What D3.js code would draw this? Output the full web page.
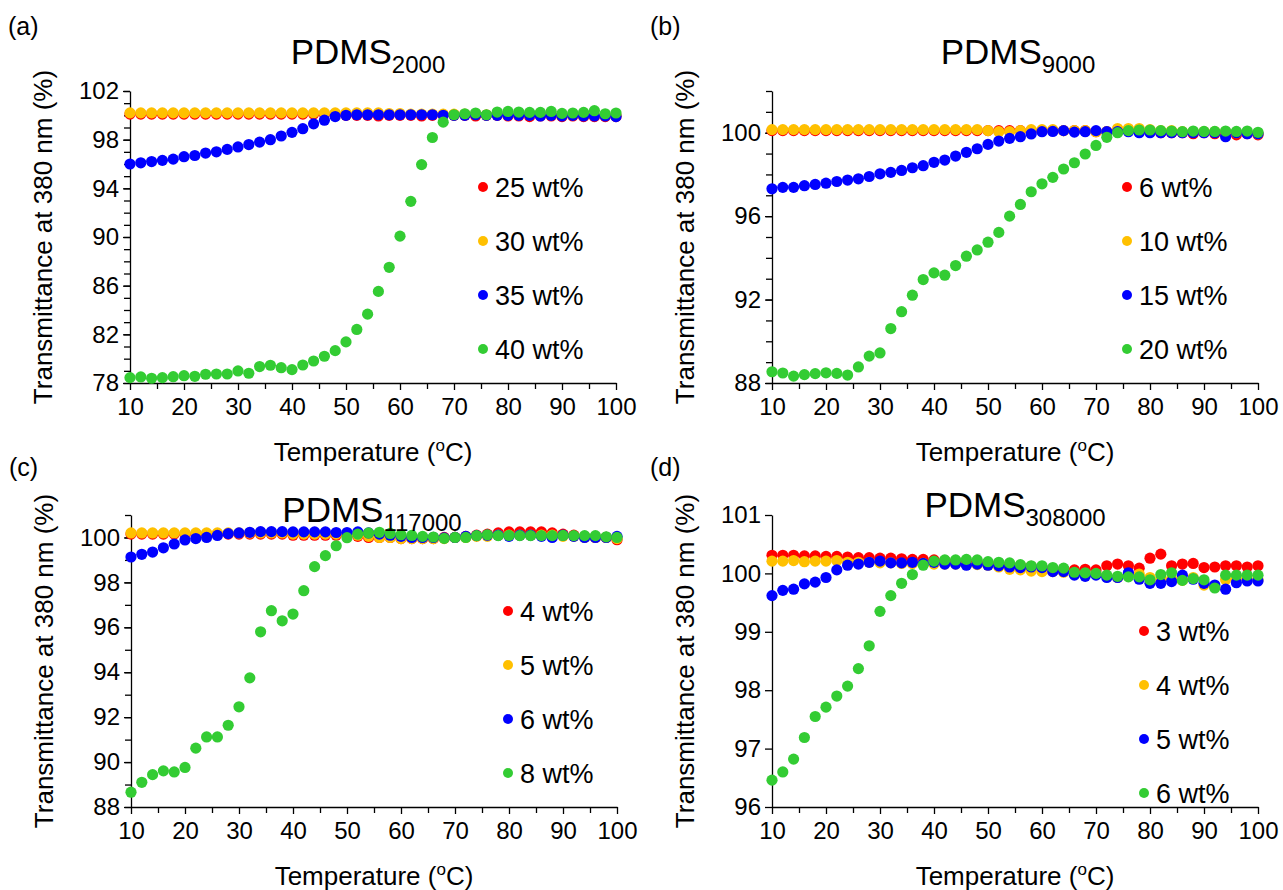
<!DOCTYPE html>
<html>
<head>
<meta charset="utf-8">
<script src="https://cdn.jsdelivr.net/npm/d3@7"></script>
<style>
  body { margin: 0; background: #fff; }
  svg text { font-family: "Liberation Sans", Arial, sans-serif; fill: #000; }
</style>
</head>
<body>
<div id="chart"></div>
<script>
// temperatures (oC), one reading every 2 degrees
const temps = [10,12,14,16,18,20,22,24,26,28,30,32,34,36,38,40,42,44,46,48,50,52,54,56,58,60,62,64,66,68,70,72,74,76,78,80,82,84,86,88,90,92,94,96,98,100];
const xTicks = [10,20,30,40,50,60,70,80,90,100];

// (a) PDMS2000
const a25 = [100.1,100.1,100.1,100.1,100.1,100.1,100.1,100.1,100.1,100.1,100.1,100.1,100.1,100.1,100.1,100.1,100.1,100.1,100.1,100.1,100.0,100.0,100.0,99.95,100.0,100.0,100.0,99.95,100.0,100.0,100.0,100.0,99.95,100.0,100.0,99.95,99.95,99.9,99.95,99.95,99.9,99.95,99.9,99.9,99.9,99.9];
const a30 = [100.2,100.2,100.2,100.2,100.2,100.2,100.2,100.2,100.2,100.2,100.2,100.2,100.2,100.2,100.2,100.2,100.2,100.2,100.2,100.2,100.2,100.2,100.2,100.2,100.15,100.15,100.1,100.1,100.1,100.1,100.1,100.1,100.1,100.05,100.05,100.1,100.05,100.05,100.1,100.05,100.0,100.05,100.0,100.0,100.0,100.0];
const a35 = [96.0,96.1,96.2,96.3,96.4,96.6,96.7,96.9,97.0,97.2,97.4,97.6,97.8,98.0,98.3,98.6,98.9,99.3,99.6,99.9,100.0,100.05,100.05,100.05,100.05,100.05,100.05,100.05,100.05,100.0,100.0,100.0,100.05,100.0,100.0,100.0,100.0,100.0,99.95,100.0,99.95,100.0,99.95,99.95,99.95,99.9];
const a40 = [78.44,78.5,78.39,78.44,78.52,78.6,78.55,78.72,78.74,78.74,78.99,78.8,79.35,79.46,79.26,79.1,79.48,79.81,80.2,80.66,81.38,82.4,83.66,85.53,87.51,90.07,92.93,95.95,98.18,99.44,100.05,100.13,100.19,100.05,100.27,100.32,100.27,100.24,100.24,100.32,100.16,100.19,100.24,100.38,100.13,100.19];

// (b) PDMS9000
const b6 = [100.1,100.1,100.1,100.1,100.1,100.1,100.1,100.1,100.1,100.1,100.1,100.1,100.1,100.1,100.1,100.1,100.1,100.1,100.1,100.1,100.1,100.1,100.1,100.1,100.1,100.1,100.1,100.1,100.1,100.1,100.05,100.05,100.1,100.1,100.05,100.05,100.0,100.0,100.0,99.95,100.0,99.95,99.95,99.9,99.95,99.9];
const b10 = [100.15,100.15,100.15,100.15,100.15,100.15,100.15,100.15,100.15,100.15,100.15,100.15,100.15,100.15,100.15,100.15,100.15,100.15,100.15,100.15,100.1,100.05,100.05,100.1,100.15,100.15,100.15,100.1,100.1,100.1,100.05,100.05,100.2,100.2,100.2,100.15,100.1,100.1,100.05,100.05,100.05,100.05,100.05,100.0,100.0,99.95];
const b15 = [97.31,97.38,97.38,97.46,97.52,97.58,97.66,97.73,97.79,97.9,98.03,98.1,98.19,98.32,98.42,98.58,98.69,98.88,99.06,99.23,99.44,99.6,99.73,99.81,99.94,100.05,100.06,100.1,100.03,100.05,100.1,100.05,100.05,100.05,100.0,100.0,100.0,100.0,100.0,100.0,100.0,100.0,99.81,100.0,99.95,99.95];
const b20 = [88.54,88.48,88.33,88.4,88.45,88.49,88.46,88.38,88.77,89.29,89.44,90.61,91.42,92.21,92.96,93.28,93.17,93.63,94.08,94.38,94.75,95.22,96.0,96.56,97.17,97.55,97.86,98.26,98.56,98.98,99.39,99.78,100.0,100.1,100.13,100.13,100.1,100.08,100.05,100.08,100.06,100.06,100.08,100.06,100.08,100.02];

// (c) PDMS117000
const c4 = [100.15,100.15,100.15,100.15,100.15,100.15,100.15,100.15,100.15,100.15,100.15,100.15,100.15,100.15,100.15,100.1,100.1,100.1,100.1,100.1,100.1,100.05,100.0,100.0,100.0,99.95,99.95,99.95,99.95,100.0,100.0,100.05,100.1,100.15,100.2,100.25,100.25,100.25,100.25,100.2,100.15,100.1,100.05,100.0,100.0,99.9];
const c5 = [100.2,100.2,100.2,100.2,100.2,100.2,100.2,100.2,100.2,100.2,100.2,100.2,100.2,100.2,100.2,100.15,100.15,100.15,100.15,100.15,100.15,100.1,100.05,100.0,100.0,99.95,99.95,99.95,99.95,99.95,100.0,100.0,100.05,100.05,100.1,100.1,100.1,100.1,100.1,100.1,100.05,100.05,100.0,100.0,100.0,99.95];
const c6 = [99.13,99.25,99.35,99.54,99.71,99.89,99.95,100.0,100.09,100.17,100.2,100.23,100.26,100.26,100.26,100.25,100.25,100.25,100.25,100.22,100.22,100.25,100.2,100.15,100.1,100.05,100.0,100.0,100.0,99.98,100.0,100.05,100.08,100.1,100.1,100.05,100.1,100.1,100.05,100.0,100.1,100.05,100.0,100.0,100.0,100.05];
const c8 = [88.66,89.1,89.44,89.61,89.56,89.76,90.62,91.12,91.12,91.64,92.46,93.75,95.8,96.74,96.29,96.59,97.63,98.7,99.19,99.63,99.99,100.15,100.2,100.23,100.18,100.12,100.09,100.05,100.02,99.96,100.0,100.0,100.08,100.12,100.08,100.09,100.08,100.08,100.08,100.08,100.09,100.08,100.08,100.08,100.03,100.0];

// (d) PDMS308000
const d3w = [100.31,100.31,100.31,100.3,100.3,100.29,100.29,100.28,100.27,100.27,100.26,100.26,100.25,100.24,100.24,100.23,100.22,100.21,100.2,100.19,100.18,100.16,100.15,100.13,100.12,100.1,100.08,100.07,100.06,100.07,100.06,100.13,100.16,100.13,100.09,100.26,100.33,100.13,100.16,100.17,100.1,100.11,100.13,100.13,100.11,100.13];
const d4w = [100.21,100.21,100.22,100.2,100.21,100.21,100.22,100.19,100.19,100.19,100.18,100.18,100.17,100.17,100.17,100.16,100.16,100.16,100.15,100.15,100.14,100.11,100.07,100.06,100.04,100.03,100.03,100.02,100.0,99.97,99.99,99.95,99.93,99.97,99.99,99.93,99.89,99.91,99.88,99.93,99.8,99.77,99.89,99.91,99.91,99.89];
const d5w = [99.62,99.71,99.73,99.82,99.85,99.93,100.06,100.14,100.16,100.19,100.21,100.18,100.18,100.19,100.17,100.19,100.16,100.16,100.14,100.16,100.14,100.13,100.11,100.1,100.11,100.1,100.03,100.03,99.97,99.95,99.97,99.93,99.93,100.01,99.9,99.83,99.83,99.86,99.97,99.9,99.83,99.8,99.73,99.84,99.87,99.87];
const d6w = [96.46,96.6,96.82,97.19,97.55,97.71,97.9,98.07,98.37,98.76,99.35,99.62,99.83,99.98,100.14,100.21,100.23,100.23,100.24,100.23,100.2,100.19,100.18,100.15,100.13,100.13,100.1,100.09,100.02,100.01,100.0,99.97,99.95,99.94,99.94,99.89,99.98,100.01,99.88,99.91,99.89,99.75,99.97,99.97,99.97,99.97];

const colors = ['#FF0000', '#FFC000', '#0000FF', '#33CC33'];

const panels = [
  { tag: '(a)', sub: '2000', left: 130, top: 91, yDomain: [78, 102], yMajor: [78,82,86,90,94,98,102], yMinorStep: 1,
    series: [a25, a30, a35, a40], names: ['25 wt%', '30 wt%', '35 wt%', '40 wt%'],
    legX: 483, legY: 187, titleX: 368, titleY: 64, tagY: 35 },
  { tag: '(b)', sub: '9000', left: 772, top: 91, yDomain: [88, 102], yMajor: [88,92,96,100], yMinorStep: 1,
    series: [b6, b10, b15, b20], names: ['6 wt%', '10 wt%', '15 wt%', '20 wt%'],
    legX: 1127, legY: 187, titleX: 1018, titleY: 64, tagY: 35 },
  { tag: '(c)', sub: '117000', left: 131, top: 515, yDomain: [88, 101], yMajor: [88,90,92,94,96,98,100], yMinorStep: 1,
    series: [c4, c5, c6, c8], names: ['4 wt%', '5 wt%', '6 wt%', '8 wt%'],
    legX: 508, legY: 611, titleX: 372, titleY: 522, tagY: 476 },
  { tag: '(d)', sub: '308000', left: 772, top: 515, yDomain: [96, 101], yMajor: [96,97,98,99,100,101], yMinorStep: null,
    series: [d3w, d4w, d5w, d6w], names: ['3 wt%', '4 wt%', '5 wt%', '6 wt%'],
    legX: 1144, legY: 631, titleX: 1015, titleY: 517, tagY: 476 }
];

const W = 1283, H = 890;
const plotW = 486, plotH = 292;

const svg = d3.select('#chart').append('svg')
  .attr('width', W)
  .attr('height', H);

function drawPanel(p) {
  const x = d3.scaleLinear().domain([10, 100]).range([p.left, p.left + plotW]);
  const y = d3.scaleLinear().domain(p.yDomain).range([p.top + plotH, p.top]);
  const g = svg.append('g');

  // minor ticks first, majors on top
  const xMinor = d3.range(15, 100, 10);
  g.append('g')
    .attr('transform', `translate(0,${p.top + plotH})`)
    .call(d3.axisBottom(x).tickValues(xMinor).tickSize(6).tickSizeOuter(0).tickFormat(''))
    .call(a => a.select('.domain').remove());
  const xa = g.append('g')
    .attr('transform', `translate(0,${p.top + plotH})`)
    .call(d3.axisBottom(x).tickValues(xTicks).tickSize(7).tickSizeOuter(0).tickPadding(8));
  xa.selectAll('text').style('font-size', '24px');

  if (p.yMinorStep) {
    const yMinor = d3.range(p.yDomain[0], p.yDomain[1] + 0.001, p.yMinorStep);
    g.append('g')
      .attr('transform', `translate(${p.left},0)`)
      .call(d3.axisLeft(y).tickValues(yMinor).tickSize(6).tickSizeOuter(0).tickFormat(''))
      .call(a => a.select('.domain').remove());
  }
  const ya = g.append('g')
    .attr('transform', `translate(${p.left},0)`)
    .call(d3.axisLeft(y).tickValues(p.yMajor).tickSize(7).tickSizeOuter(0).tickPadding(4).tickFormat(d3.format('d')));
  ya.selectAll('text').style('font-size', '24px');

  g.selectAll('.domain, .tick line').attr('stroke', '#000').attr('stroke-width', 1.3);

  // data points, series drawn in legend order
  p.series.forEach((vals, i) => {
    g.append('g').selectAll('circle')
      .data(vals)
      .enter().append('circle')
      .attr('cx', (d, j) => x(temps[j]))
      .attr('cy', d => y(d))
      .attr('r', 5.6)
      .attr('fill', colors[i]);
  });

  // legend
  p.names.forEach((n, i) => {
    const ly = p.legY + i * 54;
    g.append('circle').attr('cx', p.legX).attr('cy', ly).attr('r', 5).attr('fill', colors[i]);
    g.append('text').attr('x', p.legX + 12).attr('y', ly + 9.5)
      .style('font-size', '27px').text(n);
  });

  // title
  const t = g.append('text').attr('x', p.titleX).attr('y', p.titleY)
    .attr('text-anchor', 'middle').style('font-size', '35px');
  t.append('tspan').text('PDMS');
  t.append('tspan').attr('dy', 9).style('font-size', '24px').text(p.sub);

  // panel tag
  g.append('text').attr('x', p.left - 122).attr('y', p.tagY)
    .style('font-size', '25px').text(p.tag);

  // axis titles
  const xl = g.append('text').attr('x', p.left + plotW / 2).attr('y', p.top + plotH + 78)
    .attr('text-anchor', 'middle').style('font-size', '26px');
  xl.append('tspan').text('Temperature (');
  xl.append('tspan').attr('dy', -10).style('font-size', '17px').text('o');
  xl.append('tspan').attr('dy', 10).text('C)');

  g.append('text')
    .attr('transform', `translate(${p.left - 78},${p.top + plotH / 2}) rotate(-90)`)
    .attr('text-anchor', 'middle').style('font-size', '26px')
    .text('Transmittance at 380 nm (%)');
}

panels.forEach(drawPanel);
</script>
</body>
</html>
